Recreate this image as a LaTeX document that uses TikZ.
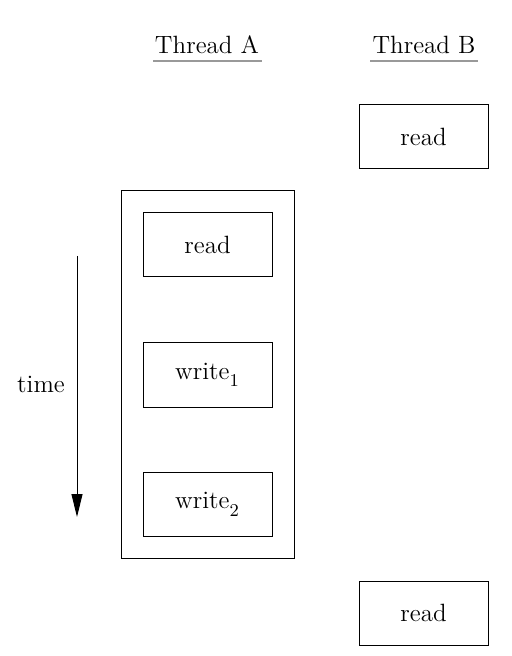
\documentclass[tikz,border=0pt]{standalone}
\usetikzlibrary{arrows.meta}
\begin{document}
\begin{tikzpicture}[x=0.5pt,y=-0.5pt,
  box/.style={draw,line width=0.5pt,minimum width=64.5pt,minimum height=32pt,inner sep=0pt,font=\fontsize{12.5}{14}\selectfont},
  lbl/.style={font=\fontsize{12.5}{14}\selectfont,inner sep=0pt}]
\useasboundingbox (0,0) rectangle (512,656);
\node[lbl] (tA) at (207,45) {Thread A};
\node[lbl] (tB) at (424,45) {Thread B};
\coordinate (ua1) at (153,61); \coordinate (ua2) at (262,61);
\coordinate (ub1) at (370,61); \coordinate (ub2) at (478,61);
\draw[gray!80,line width=0.9pt] (ua1) -- (ua2);
\draw[gray!80,line width=0.9pt] (ub1) -- (ub2);
\node[draw,line width=0.5pt,minimum width=86.5pt,minimum height=183.5pt,inner sep=0pt] (outer) at (207.5,374.5) {};
\node[box] (r1) at (207.5,245) {read};
\node[box] (w1) at (207.5,375) {write\raisebox{-0.35ex}{$_1$}};
\node[box] (w2) at (207.5,504.5) {write\raisebox{-0.35ex}{$_2$}};
\node[box] (rb1) at (423.5,137) {read};
\node[box] (rb2) at (423.5,613) {read};
\coordinate (t1) at (77,256);
\coordinate (t2) at (77,517);
\draw[line width=0.5pt,-{Triangle[length=11.5pt,width=5.5pt]}] (t1) -- (t2);
\node[lbl] (time) at (41,384) {time};
\end{tikzpicture}
\end{document}
